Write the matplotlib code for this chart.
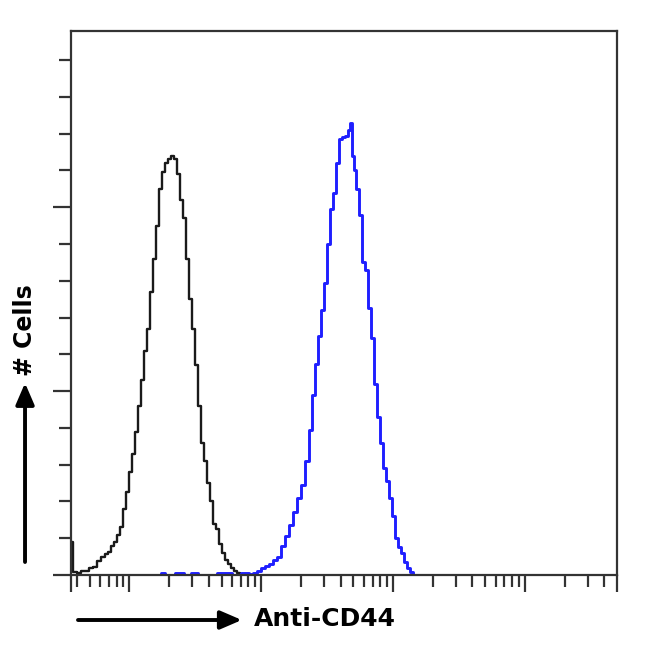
import matplotlib.pyplot as plt
import numpy as np

# histogram bins: log10 of the fluorescence intensity, and cell counts per bin
ctrl_log = [0.562, 0.584, 0.615, 0.645, 0.675, 0.705, 0.735, 0.766, 0.796, 0.826,
            0.849, 0.872, 0.894, 0.917, 0.940, 0.962, 0.985, 1.008, 1.030, 1.053,
            1.076, 1.098, 1.121, 1.144, 1.166, 1.189, 1.212, 1.234, 1.257, 1.280,
            1.302, 1.325, 1.348, 1.370, 1.393, 1.416, 1.438, 1.461, 1.484, 1.506,
            1.529, 1.552, 1.574, 1.597, 1.620, 1.642, 1.665, 1.688, 1.710, 1.733,
            1.756, 1.779, 1.801, 1.824, 1.847, 1.870]
ctrl_cells = [0.9, 0.08, 0.05, 0.12, 0.1, 0.18, 0.23, 0.38, 0.5, 0.57,
              0.63, 0.78, 0.9, 1.08, 1.3, 1.8, 2.25, 2.8, 3.3, 3.9,
              4.6, 5.3, 6.1, 6.7, 7.7, 8.6, 9.5, 10.5, 10.95, 11.2,
              11.3, 11.4, 11.3, 10.9, 10.2, 9.7, 8.6, 7.5, 6.7, 5.7,
              4.6, 3.6, 3.1, 2.5, 2.0, 1.4, 1.25, 0.85, 0.6, 0.42,
              0.3, 0.2, 0.12, 0.06, 0.02, 0.0]

cd44_log = [1.227, 1.257, 1.287, 1.401, 1.431, 1.506, 1.537, 1.763, 1.794, 1.892,
            1.922, 1.952, 1.983, 2.013, 2.043, 2.073, 2.104, 2.134, 2.164, 2.194,
            2.224, 2.255, 2.285, 2.315, 2.345, 2.376, 2.398, 2.421, 2.444, 2.466,
            2.489, 2.512, 2.534, 2.557, 2.580, 2.602, 2.625, 2.648, 2.663, 2.678,
            2.693, 2.708, 2.731, 2.754, 2.776, 2.799, 2.822, 2.844, 2.867, 2.890,
            2.912, 2.935, 2.958, 2.980, 3.003, 3.026, 3.048, 3.071, 3.094, 3.116,
            3.139, 3.162]
cd44_cells = [0.0, 0.06, 0.0, 0.06, 0.0, 0.06, 0.0, 0.05, 0.0, 0.06,
              0.02, 0.05, 0.12, 0.18, 0.25, 0.3, 0.4, 0.5, 0.8, 1.05,
              1.35, 1.7, 2.1, 2.45, 3.1, 3.95, 4.9, 5.75, 6.5, 7.2,
              7.95, 9.0, 9.95, 10.4, 11.2, 11.85, 11.9, 11.95, 12.1, 12.3,
              11.4, 11.0, 10.5, 9.8, 8.5, 8.3, 7.25, 6.45, 5.2, 4.3,
              3.6, 2.9, 2.55, 2.1, 1.6, 1.0, 0.75, 0.6, 0.35, 0.2,
              0.09, 0.0]

x_min, x_max = 3.6, 5e4
y_max = 14.8
x_major = [10, 100, 1000, 10000]
y_major = [0, 5, 10]
y_minor = [1, 2, 3, 4, 6, 7, 8, 9, 11, 12, 13, 14]

fig = plt.figure(figsize=(6.5, 6.6), dpi=100)
ax = fig.add_axes([0.1092, 0.1288, 0.84, 0.8247])

ax.step(10 ** np.array(ctrl_log), ctrl_cells, where='mid', color='#1a1a1a', lw=1.7)
ax.step(10 ** np.array(cd44_log), cd44_cells, where='mid', color='#1f1fff', lw=2.1)

ax.set_xscale('log')
ax.set_xlim(x_min, x_max)
ax.set_ylim(0, y_max)

# edges get a long tick too, so the side lines hang below the axis like the original
ax.set_xticks([x_min] + x_major + [x_max])
ax.set_xticks([v * 10 ** d for d in range(0, 5) for v in range(2, 10)
               if x_min < v * 10 ** d < x_max], minor=True)
ax.set_yticks(y_major)
ax.set_yticks(y_minor, minor=True)

ax.tick_params(axis='x', which='major', direction='out', length=12, width=1.6,
               color='#333333', labelbottom=False)
ax.tick_params(axis='x', which='minor', direction='out', length=8.5, width=1.6,
               color='#333333')
ax.tick_params(axis='y', which='major', direction='out', length=13, width=1.6,
               color='#333333', labelleft=False)
ax.tick_params(axis='y', which='minor', direction='out', length=8.5, width=1.6,
               color='#333333')
for side in ['left', 'right', 'top', 'bottom']:
    ax.spines[side].set_linewidth(1.6)
    ax.spines[side].set_color('#333333')

arrow = dict(arrowstyle='-|>,head_length=0.65,head_width=0.28', lw=2.8,
             color='black', mutation_scale=20, shrinkA=0, shrinkB=0)

# x label with arrow
ax.annotate('', xy=(0.372, 0.0606), xytext=(0.12, 0.0606),
            xycoords='figure fraction', textcoords='figure fraction', arrowprops=arrow)
fig.text(0.391, 0.0621, 'Anti-CD44', fontsize=18, fontweight='bold',
         ha='left', va='center')

# y label with arrow
ax.annotate('', xy=(0.0385, 0.4197), xytext=(0.0385, 0.1485),
            xycoords='figure fraction', textcoords='figure fraction', arrowprops=arrow)
fig.text(0.0385, 0.5, '# Cells', fontsize=17, fontweight='bold',
         rotation=90, ha='center', va='center')

plt.savefig('out.png', dpi=100)
